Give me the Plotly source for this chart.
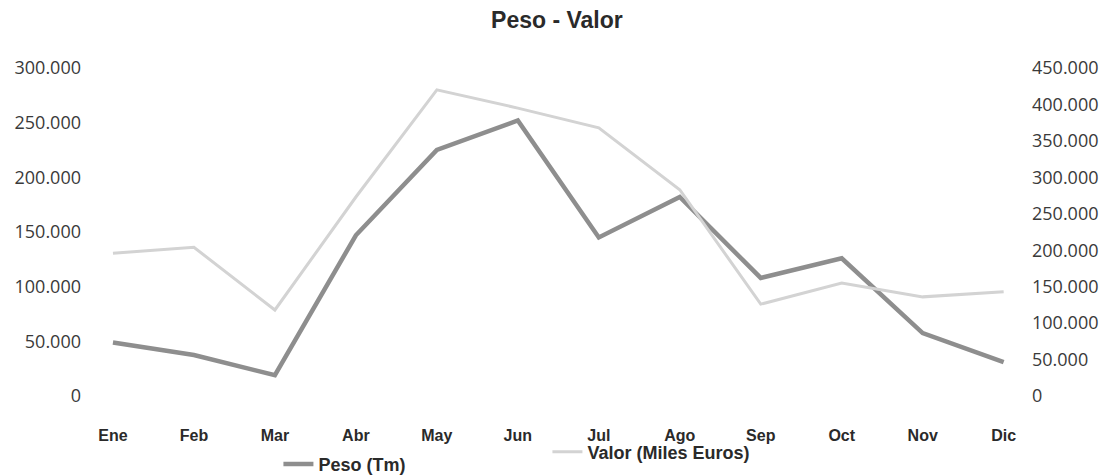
import plotly.graph_objects as go

meses = ["Ene", "Feb", "Mar", "Abr", "May", "Jun", "Jul", "Ago", "Sep", "Oct", "Nov", "Dic"]
peso_tm = [49000, 37500, 19000, 147000, 225000, 252000, 145000, 182000, 108000, 126000, 57500, 31000]
valor_miles_euros = [196000, 204000, 118000, 273000, 420000, 395000, 368000, 283000, 126000, 155000, 136000, 143000]

left_ticks = [0, 50000, 100000, 150000, 200000, 250000, 300000]
right_ticks = [0, 50000, 100000, 150000, 200000, 250000, 300000, 350000, 400000, 450000]

fig = go.Figure()
fig.add_trace(go.Scatter(
    x=meses, y=valor_miles_euros, name="Valor (Miles Euros)", yaxis="y2",
    mode="lines", line=dict(color="#d3d3d3", width=3), legend="legend2", showlegend=True))
fig.add_trace(go.Scatter(
    x=meses, y=peso_tm, name="Peso (Tm)", yaxis="y",
    mode="lines", line=dict(color="#8e8e8e", width=4.5), legend="legend", showlegend=True))

tick_font = dict(family="Open Sans, DejaVu Sans, sans-serif", size=18, color="#3a3a3a")
legend_font = dict(family="Liberation Sans, Arial, sans-serif", size=18, color="#2a2a2a", weight="bold")

fig.update_layout(
    width=1100, height=468,
    showlegend=True,
    margin=dict(l=92, r=93, t=60, b=80, autoexpand=False),
    paper_bgcolor="white", plot_bgcolor="white",
    separators=",.",
    title=dict(text="<b>Peso - Valor</b>", x=0.499, xanchor="center", y=1 - 12 / 468,
               yanchor="middle", font=dict(family="Liberation Sans, Arial, sans-serif", size=23, color="#2a2a2a")),
    xaxis=dict(type="category", range=[-0.16, 11.14], showgrid=False, zeroline=False,
               showline=False, ticks="", ticklabelstandoff=28, automargin=False,
               tickfont=dict(family="Liberation Sans Narrow, Arial Narrow, Liberation Sans, sans-serif",
                             size=16, color="#2a2a2a", weight="bold")),
    yaxis=dict(range=[0, 300000], tickvals=left_ticks, tickformat=",d", showgrid=False, automargin=False,
               zeroline=False, showline=False, ticks="", ticklabelstandoff=18, tickfont=tick_font),
    yaxis2=dict(range=[0, 450000], tickvals=right_ticks, tickformat=",d", overlaying="y",
                side="right", showgrid=False, zeroline=False, showline=False, ticks="", automargin=False,
                ticklabelstandoff=16, tickfont=tick_font),
    legend=dict(x=0.195, xanchor="left", y=-0.208, yanchor="middle", bgcolor="rgba(0,0,0,0)",
                orientation="h", font=legend_font),
    legend2=dict(x=0.489, xanchor="left", y=-0.171, yanchor="middle", bgcolor="rgba(0,0,0,0)",
                 orientation="h", font=legend_font),
)

fig.write_html("out.html")
